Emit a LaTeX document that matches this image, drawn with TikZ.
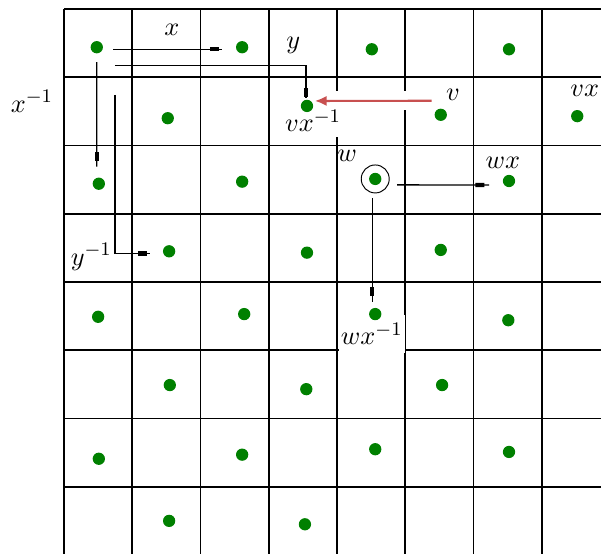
\documentclass[tikz,border=0pt]{standalone}
\usepackage{xcolor}
\usepackage{tikz}
\usetikzlibrary{arrows.meta,calc}
\definecolor{clrDot}{RGB}{0,128,0}
\definecolor{clrV}{RGB}{200,80,80}

\begin{document}
\begin{tikzpicture}[x=1cm,y=1cm,font=\fontsize{11}{13}\selectfont,
    dot/.style={circle,fill=clrDot,inner sep=0pt,minimum size=0.18cm},
    link/.style={line width=0.6pt},
    tipmark/.style={fill=black,inner sep=0pt,minimum width=0.13cm,minimum height=0.065cm,sloped}]
  \useasboundingbox (-0.938,0.015) rectangle (7.868,8.132);
  \clip (-0.938,0.015) rectangle (7.868,8.132);
  \draw[line width=0.8pt] (0,-0.5) grid (8.5,8);

  % white strip under the v arrow
  \fill[white] (3.70,6.52) rectangle (5.39,6.80);

  % labels
  \node at (1.58,7.69) {$x$};
  \node at (3.36,7.47) {$y$};
  \node at (-0.47,6.65) {$x^{-1}$};
  \node at (0.40,4.37) {$y^{-1}$};
  \node[fill=white,inner sep=2pt] at (3.65,6.36) {$vx^{-1}$};
  \node at (5.70,6.74) {$v$};
  \node at (7.63,6.80) {$vx$};
  \node at (4.15,5.85) {$w$};
  \node at (6.43,5.74) {$wx$};
  \node[fill=white,inner xsep=0.8pt,inner ysep=3.5pt] at (4.51,3.24) {$wx^{-1}$};

  % lattice points
  \foreach \n/\px/\py in {%
    o/0.48/7.44, gx/2.61/7.44, a13/4.51/7.41, a14/6.52/7.41,
    a21/1.52/6.40, vxi/3.56/6.58, v/5.52/6.45, vx/7.52/6.43,
    xi/0.51/5.44, a32/2.61/5.47, w/4.56/5.51, wx/6.52/5.48,
    yi/1.54/4.45, a42/3.56/4.43, a43/5.52/4.47,
    a51/0.50/3.49, a52/2.64/3.53, wxi/4.56/3.53, a54/6.51/3.44,
    a61/1.55/2.49, a62/3.55/2.43, a63/5.54/2.49,
    a71/0.51/1.41, a72/2.61/1.47, a73/4.56/1.55, a74/6.52/1.51,
    a81/1.54/0.50, a82/3.53/0.45}{
      \node[dot] (\n) at (\px,\py) {};
  }
  \node[draw,circle,line width=0.4pt,inner sep=0pt,minimum size=0.41cm] (ring) at (w) {};

  % generators from the origin
  \draw[link] ($(o)+(0.238,-0.03)$) -- ($(gx)+(-0.295,-0.03)$) node[tipmark,pos=0.93] {};
  \draw[link] ($(o)+(0.264,-0.264)$) -| ($(vxi)+(-0.015,0.117)$) node[tipmark,pos=0.92] {};
  \draw[link] ($(o)+(0,-0.22)$) -- ($(xi)+(-0.03,0.249)$) node[tipmark,pos=0.905] {};
  \coordinate (ys) at (0.747,6.74);
  \draw[link] (ys) |- ($(yi)+(-0.278,-0.03)$) node[tipmark,pos=0.886] {};

  % v moved by x^{-1}
  \draw[clrV,line width=0.9pt,-{Latex[length=0.17cm,width=0.15cm]}]
    ($(v)+(-0.132,0.205)$) -- ($(vxi)+(0.117,0.073)$);

  % neighbours of w
  \draw[link] ($(w)+(0.322,-0.088)$) -- ($(wx)+(-0.293,-0.059)$) node[tipmark,pos=0.90] {};
  \draw[link] ($(w)+(-0.044,-0.278)$) -- ($(wxi)+(-0.044,0.176)$) node[tipmark,pos=0.90] {};
\end{tikzpicture}
\end{document}
